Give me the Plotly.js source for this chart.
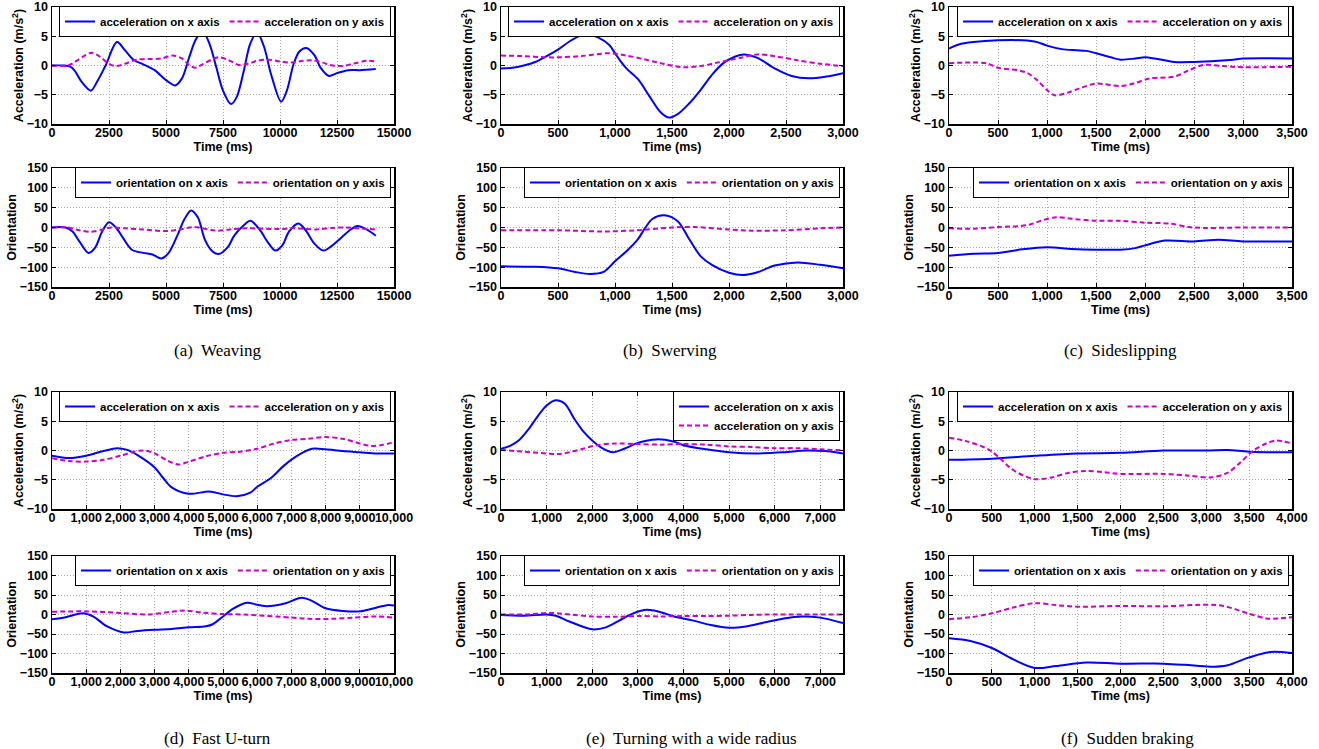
<!DOCTYPE html>
<html>
<head>
<meta charset="utf-8">
<script src="https://cdn.plot.ly/plotly-3.0.1.min.js"></script>
<style>html,body{margin:0;padding:0;background:#fff;}#chart{width:1319px;height:749px;}</style>
</head>
<body>
<div id="chart"></div>
<script>
// ---------- (a) Weaving ----------
const weavingAccXTime = [0,500,800,1000,1300,1700,2000,2350,2850,3200,3600,4000,4500,5000,5400,5700,6000,6300,6600,6900,7200,7500,7850,8100,8400,8700,9000,9300,9600,10050,10300,10600,10850,11150,11500,11800,12150,12500,13000,13500,14200];
const weavingAccX     = [0,0,-0.2,-0.9,-2.8,-4.3,-2.6,0,4.0,2.6,0.9,0.2,-0.8,-2.5,-3.4,-2.2,1.2,4.4,5.9,3.8,-0.2,-4.3,-6.6,-5.4,-1.1,3.8,5.6,3.2,-1.4,-6.2,-4.3,0.3,2.4,3.0,1.8,-0.5,-1.8,-1.3,-0.8,-0.8,-0.6];
const weavingAccYTime = [0,700,1000,1400,1750,2100,2500,2800,3200,3700,4200,4800,5300,5700,6000,6300,6600,7000,7300,7700,8200,8600,9000,9500,10000,10500,11000,11400,11800,12200,12700,13200,13800,14200];
const weavingAccY     = [0,0,0.6,1.6,2.2,1.5,0.3,-0.1,0.3,1.0,1.1,1.2,1.7,1.2,0.1,-0.4,0.2,1.0,1.4,1.0,0.1,0.3,0.8,1.0,0.7,0.5,0.8,0.9,0.6,0.1,-0.1,0.3,0.8,0.7];
const weavingOriXTime = [0,600,900,1200,1600,1900,2200,2500,2800,3100,3500,4000,4400,4800,5100,5500,5800,6100,6400,6700,7000,7300,7700,8000,8400,8700,9100,9500,9800,10100,10400,10800,11100,11500,11900,12300,12700,13100,13400,13800,14200];
const weavingOriX     = [0,0,-10,-35,-64,-50,-10,13,0,-25,-56,-64,-68,-78,-65,-20,20,43,25,-30,-58,-67,-50,-20,5,17,-5,-40,-58,-45,-10,10,-5,-40,-58,-45,-25,-5,4,-5,-21];
const weavingOriYTime = [0,700,1200,1700,2200,2600,3200,4000,5000,5600,6200,6700,7200,7800,8500,9300,10000,10500,11000,11600,12300,12800,13400,14200];
const weavingOriY     = [0,0,-7,-11,-5,0,-2,-5,-9,-5,1,-3,-8,-5,-2,-3,-4,-2,-3,-5,-1,0,-2,-5];

// ---------- (b) Swerving ----------
const swervingAccXTime = [0,100,200,300,400,500,600,700,760,850,950,1000,1050,1100,1200,1300,1400,1470,1550,1650,1750,1850,1950,2050,2130,2250,2400,2550,2700,2850,3000];
const swervingAccX     = [-0.5,-0.4,0,0.6,1.6,2.7,4.1,5.1,5.3,4.8,3.5,2.1,0.7,-0.5,-2.3,-5.2,-8.0,-8.9,-8.3,-6.5,-4.2,-1.6,0.4,1.5,1.9,1.3,-0.5,-1.8,-2.2,-1.9,-1.3];
const swervingAccYTime = [0,200,400,500,700,950,1100,1250,1400,1600,1750,1900,2100,2250,2400,2600,2800,3000];
const swervingAccY     = [1.7,1.6,1.4,1.4,1.6,2.1,1.7,1.1,0.4,-0.3,-0.1,0.5,1.3,1.9,1.6,0.9,0.3,-0.1];
const swervingOriXTime = [0,300,500,650,780,900,1000,1100,1200,1260,1330,1430,1550,1650,1750,1850,2000,2120,2250,2400,2600,2800,3000];
const swervingOriX     = [-98,-99,-103,-112,-117,-112,-85,-60,-30,-3,22,31,16,-29,-72,-94,-114,-120,-113,-96,-88,-94,-103];
const swervingOriYTime = [0,500,900,1200,1500,1700,2000,2200,2500,2800,3000];
const swervingOriY     = [-7,-7,-10,-7,0,1,-5,-8,-7,-2,0];

// ---------- (c) Sideslipping ----------
const sideslipAccXTime = [0,100,250,500,750,900,1000,1150,1300,1400,1500,1650,1750,1900,2000,2100,2300,2500,2750,2900,3000,3500];
const sideslipAccX     = [2.9,3.6,4.0,4.3,4.3,4.0,3.4,2.8,2.6,2.5,2.1,1.4,1.0,1.2,1.4,1.2,0.6,0.6,0.8,1.0,1.2,1.2];
const sideslipAccYTime = [0,300,400,500,700,800,900,1000,1080,1200,1350,1500,1750,1900,2050,2300,2450,2600,2800,3000,3500];
const sideslipAccY     = [0.4,0.5,0.3,-0.4,-0.8,-1.3,-2.5,-4.2,-5.1,-4.7,-3.8,-3.1,-3.5,-3.0,-2.2,-1.9,-0.8,0.1,-0.1,-0.3,-0.2];
const sideslipOriXTime = [0,250,500,750,1000,1250,1500,1750,1900,2000,2200,2500,2750,3000,3500];
const sideslipOriX     = [-71,-66,-64,-55,-50,-54,-56,-56,-52,-45,-33,-35,-31,-35,-35];
const sideslipOriYTime = [0,250,500,800,950,1100,1250,1500,1750,2000,2250,2450,2600,3000,3500];
const sideslipOriY     = [-2,-3,1,6,18,26,22,17,17,12,10,1,-1,0,0];

// ---------- (d) Fast U-turn ----------
const uturnAccXTime = [0,500,1000,1500,1900,2200,2500,3000,3250,3500,4000,4600,5000,5400,5800,6000,6400,6800,7200,7600,8000,8500,9000,9500,10000];
const uturnAccX     = [-0.9,-1.3,-0.9,-0.1,0.4,0.1,-0.8,-2.9,-4.7,-6.3,-7.4,-7.0,-7.5,-7.8,-7.2,-6.2,-4.7,-2.5,-0.8,0.3,0.2,-0.1,-0.3,-0.5,-0.5];
const uturnAccYTime = [0,500,1000,1500,2000,2400,2700,3000,3400,3700,4000,4500,5000,5500,6000,6500,7000,7500,8000,8500,9000,9300,9600,10000];
const uturnAccY     = [-1.3,-1.8,-1.9,-1.6,-0.9,-0.2,0.0,-0.5,-1.8,-2.4,-1.9,-1.0,-0.4,-0.2,0.3,1.2,1.8,2.0,2.3,2.0,1.2,0.8,0.9,1.4];
const uturnOriXTime = [0,400,900,1200,1600,2100,2500,3000,3500,4000,4500,4700,5000,5300,5700,6000,6300,6800,7300,7600,8000,8500,9000,9500,9800,10000];
const uturnOriX     = [-12,-7,3,-5,-30,-46,-42,-39,-37,-33,-30,-25,-5,15,30,25,21,28,43,35,16,9,8,18,24,23];
const uturnOriYTime = [0,1000,2000,2800,3500,3900,4400,5000,5600,6000,7000,7500,8200,8800,9500,10000];
const uturnOriY     = [7,8,4,0,7,10,5,1,0,-2,-8,-11,-11,-8,-5,-8];

// ---------- (e) Turning with a wide radius ----------
const wideAccXTime = [0,200,400,600,800,1000,1200,1400,1600,1800,2000,2200,2450,2700,3000,3400,3800,4000,4500,5000,5600,6200,6700,7100,7500];
const wideAccX     = [0.3,0.8,1.8,3.6,5.8,7.7,8.6,8.0,5.5,3.3,1.7,0.5,-0.3,0.3,1.3,1.9,1.5,0.9,0.2,-0.3,-0.5,-0.3,0.0,-0.1,-0.5];
const wideAccYTime = [0,500,1000,1250,1500,1800,2100,2500,3000,3500,4000,4500,5000,5500,6000,6500,7000,7500];
const wideAccY     = [0.1,-0.2,-0.5,-0.6,-0.3,0.3,0.9,1.2,1.1,1.0,1.1,1.0,0.7,0.6,0.4,0.4,0.2,0.0];
const wideOriXTime = [0,500,1000,1200,1500,2000,2300,2600,2900,3200,3500,3800,4200,4600,5000,5400,5800,6200,6600,7000,7500];
const wideOriX     = [-1,-3,0,-3,-18,-38,-33,-15,3,12,6,-5,-15,-27,-34,-30,-20,-10,-5,-8,-22];
const wideOriYTime = [0,500,1100,1500,2000,2500,3000,3500,4000,4500,5000,5500,6000,7500];
const wideOriY     = [0,0,4,0,-5,-6,-4,-5,-4,-4,-3,-1,0,0];

// ---------- (f) Sudden braking ----------
const brakeAccXTime = [0,500,1000,1500,2000,2500,3000,3250,3500,4000];
const brakeAccX     = [-1.6,-1.4,-0.9,-0.5,-0.4,0.0,0.0,0.1,-0.2,-0.3];
const brakeAccYTime = [0,200,400,500,600,700,800,1000,1200,1400,1600,1800,2000,2500,2800,3050,3250,3400,3550,3700,3820,4000];
const brakeAccY     = [2.2,1.6,0.6,-0.2,-1.4,-2.8,-3.8,-4.9,-4.6,-3.8,-3.5,-3.7,-4.0,-4.0,-4.3,-4.6,-3.8,-2.0,0.0,1.2,1.7,1.2];
const brakeOriXTime = [0,250,500,750,1000,1250,1600,2000,2500,2750,3050,3250,3500,3750,4000];
const brakeOriX     = [-61,-68,-86,-115,-137,-132,-123,-126,-126,-129,-134,-130,-110,-96,-99];
const brakeOriYTime = [0,250,500,750,1000,1250,1500,2000,2500,3000,3200,3500,3700,3850,4000];
const brakeOriY     = [-12,-7,3,18,29,24,20,22,21,25,22,2,-10,-10,-7];

// ---------- labels / ticks ----------
const captions = ['(a)  Weaving','(b)  Swerving','(c)  Sideslipping','(d)  Fast U-turn','(e)  Turning with a wide radius','(f)  Sudden braking'];
const timeRanges = [15000,3000,3500,10000,7500,4000];
const timeSteps  = [2500,500,500,1000,1000,500];
const timeFormats = ['d',',d',',d',',d',',d',',d'];
const accLegend = ['acceleration on x axis','acceleration on y axis'];
const oriLegend = ['orientation on x axis','orientation on y axis'];
const accTitle = 'Acceleration (m/s<sup>2</sup>)';
const oriTitle = 'Orientation';
const timeTitle = 'Time (ms)';

const panels = [
  [[weavingAccXTime,weavingAccX,weavingAccYTime,weavingAccY],[weavingOriXTime,weavingOriX,weavingOriYTime,weavingOriY]],
  [[swervingAccXTime,swervingAccX,swervingAccYTime,swervingAccY],[swervingOriXTime,swervingOriX,swervingOriYTime,swervingOriY]],
  [[sideslipAccXTime,sideslipAccX,sideslipAccYTime,sideslipAccY],[sideslipOriXTime,sideslipOriX,sideslipOriYTime,sideslipOriY]],
  [[uturnAccXTime,uturnAccX,uturnAccYTime,uturnAccY],[uturnOriXTime,uturnOriX,uturnOriYTime,uturnOriY]],
  [[wideAccXTime,wideAccX,wideAccYTime,wideAccY],[wideOriXTime,wideOriX,wideOriYTime,wideOriY]],
  [[brakeAccXTime,brakeAccX,brakeAccYTime,brakeAccY],[brakeOriXTime,brakeOriX,brakeOriYTime,brakeOriY]]
];

// ---------- layout geometry (pixels) ----------
const W = 1319, H = 749;
const cols = [[52,394],[501,843],[949,1292]];
const rows = [[7,124],[168,287],[392,509],[556,673]];
const captionX = [218,670,1120,218,691,1127];
const captionY = [350,350,350,738,738,738];

const boldFont = {family:'Liberation Sans, Arial, Helvetica, sans-serif', size:12.5, color:'#000', weight:'bold'};
const px2x = p => p / W;
const px2y = p => 1 - p / H;

const data = [];
const layout = {
  width: W, height: H,
  margin: {l:0, r:0, t:0, b:0},
  paper_bgcolor: '#fff', plot_bgcolor: '#fff',
  showlegend: true,
  shapes: [], annotations: []
};

panels.forEach((panel, p) => {
  const c = cols[p % 3];
  const rg = Math.floor(p / 3);
  panel.forEach((series, s) => {
    const k = p * 2 + s + 1;
    const r = rows[rg * 2 + s];
    const xa = 'x' + (k === 1 ? '' : k), ya = 'y' + (k === 1 ? '' : k);
    const lg = 'legend' + (k === 1 ? '' : k);
    const names = s === 0 ? accLegend : oriLegend;
    data.push({
      x: series[0], y: series[1], type: 'scatter', mode: 'lines', name: names[0],
      xaxis: xa, yaxis: ya, legend: lg,
      line: {color: '#0000ff', width: 2, shape: 'spline', smoothing: 0.9}
    });
    data.push({
      x: series[2], y: series[3], type: 'scatter', mode: 'lines', name: names[1],
      xaxis: xa, yaxis: ya, legend: lg,
      line: {color: '#cc00cc', width: 2, dash: '5px,3px', shape: 'spline', smoothing: 0.9}
    });
    const common = {
      showline: true, linecolor: '#000', linewidth: 1.5, mirror: 'ticks',
      ticks: 'inside', ticklen: 4, tickcolor: '#000', tickwidth: 1,
      showgrid: true, gridcolor: '#a8a8a8', griddash: '1px,2px', gridwidth: 1,
      zeroline: false, tickfont: boldFont, fixedrange: true
    };
    layout['xaxis' + (k === 1 ? '' : k)] = Object.assign({}, common, {
      domain: [px2x(c[0]), px2x(c[1])], anchor: ya,
      range: [0, timeRanges[p]], dtick: timeSteps[p], tick0: 0, tickformat: timeFormats[p],
      tickangle: 0, ticklabelstandoff: -4,
      title: {text: timeTitle, font: boldFont, standoff: 0}
    });
    layout['yaxis' + (k === 1 ? '' : k)] = Object.assign({}, common, {
      domain: [px2y(r[1]), px2y(r[0])], anchor: xa,
      range: s === 0 ? [-10, 10] : [-150, 150], dtick: s === 0 ? 5 : 50, tick0: 0,
      title: {text: s === 0 ? accTitle : oriTitle, font: boldFont, standoff: 0}
    });
    const vertical = (p === 4 && s === 0);
    layout[lg] = {
      x: px2x(c[1] - 3), xanchor: 'right', y: px2y(r[0] - 1), yanchor: 'top',
      xref: 'paper', yref: 'paper',
      orientation: vertical ? 'v' : 'h',
      bgcolor: '#fff', bordercolor: '#000', borderwidth: 1,
      font: {family: boldFont.family, size: 11.5, color: '#000', weight: 'bold'},
      itemwidth: 30, tracegroupgap: 0, traceorder: 'normal'
    };
    layout.shapes.push({
      type: 'line', xref: xa + ' domain', x0: 0, x1: 1, yref: ya, y0: 0, y1: 0,
      line: {color: '#000', width: 1, dash: '1px,2px'}, layer: 'below'
    });
  });
  layout.annotations.push({
    text: captions[p], xref: 'paper', yref: 'paper',
    x: px2x(captionX[p]), y: px2y(captionY[p]), xanchor: 'center', yanchor: 'middle',
    showarrow: false,
    font: {family: 'Liberation Serif, Times New Roman, serif', size: 17, color: '#000'}
  });
});

Plotly.newPlot('chart', data, layout, {displayModeBar: false, staticPlot: true});
</script>
</body>
</html>
